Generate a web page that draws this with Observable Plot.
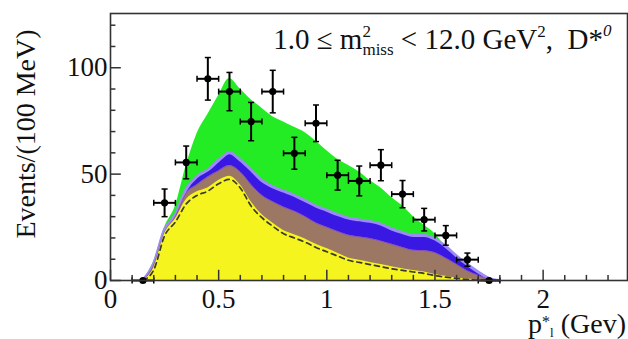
<!DOCTYPE html>
<html><head><meta charset="utf-8">
<script src="https://cdn.jsdelivr.net/npm/d3@7"></script>
<script src="https://cdn.jsdelivr.net/npm/@observablehq/plot@0.6"></script>
<style>body{margin:0;background:#fff}svg{display:block}</style>
</head><body><div id="chart"></div>
<script>
// Fit components (stacked, cumulative tops) on a 0.05 GeV grid
const gridX     = [0.15,0.2,0.25,0.3,0.35,0.4,0.45,0.5,0.55,0.6,0.65,0.7,0.75,0.8,0.85,0.9,0.95,1.0,1.05,1.1,1.15,1.2,1.25,1.3,1.35,1.4,1.45,1.5,1.55,1.6,1.65,1.7,1.75,1.8];
const totalTop  = [0,9,25,35,54,69,78,87,95,90,85,81,77,74.5,72,69.5,65.5,61,57,54,51,47,43.5,39,35,30,26,22,16,12,7.5,3.5,1,0];
const blueTop   = [0,8,24,31,43,49,52,56.5,60,56.6,52,47,44,42,40,37.5,35,33,31,29.3,28.5,27.8,26.5,24.2,22.5,21.2,21.2,19.5,16,11.5,7.5,4,1,0];
const brownTop  = [0,7,22.5,30,41,45,48.7,51.5,54,51,45,40,37,34.5,32.5,30,27,25,23,21.3,20.5,19.7,18.5,17,15.5,14.2,14,13,10.5,7.5,4.5,2.4,0.5,0];
const yellowTop = [0,6,22,29,38,41.7,43.5,47,49,45,37,31,27,23.5,21.5,19.5,17,15,12.8,10.6,9.5,8.5,7.5,6.5,5.5,4.7,4,2.8,2,1.2,0.7,0.3,0,0];
const dashedTop = [0,5,21,27.5,36,40,42,45.5,47.5,43.5,35,29.5,25.5,22,20,18,15.5,13.5,11.5,9.5,8.5,7.5,6.5,5.5,4.8,4,3.3,2.3,1.6,1,0.5,0.2,0,0];

// Data points
const dataX   = [0.15,0.25,0.35,0.45,0.55,0.65,0.75,0.85,0.95,1.05,1.15,1.25,1.35,1.45,1.55,1.65,1.75];
const dataY   = [0,36.5,55.5,94.8,88.8,74.7,88.8,59.8,73.9,49.5,46.8,54.2,40.6,28.6,21.2,9.8,0];
const dataErr = [0.6,6.5,7.7,10,9,9,10,7.5,8.6,7,7,7.3,6.4,5.3,4.6,3.1,0.6];
const halfBin = 0.05;

// Axes
const xTicks = [0,0.5,1,1.5,2];
const xTickLabels = ["0","0.5","1","1.5","2"];
const xMinor = [0.1,0.2,0.3,0.4,0.6,0.7,0.8,0.9,1.1,1.2,1.3,1.4,1.6,1.7,1.8,1.9,2.1,2.2,2.3];
const yTicks = [0,50,100];
const yTickLabels = ["0","50","100"];
const yMinor = [10,20,30,40,60,70,80,90,110,120];

const curve = gridX.map((x,i)=>({x, total: totalTop[i], blue: blueTop[i], brown: brownTop[i], yellow: yellowTop[i], dashed: dashedTop[i]}));
const pts = dataX.map((x,i)=>({x, y: dataY[i], e: dataErr[i]}));
const C = "monotone-x";
const capX = 0.014, capY = 1.4;

const plot = Plot.plot({
  width: 628, height: 339,
  marginLeft: 110, marginRight: 1, marginTop: 13, marginBottom: 59,
  x: {domain: [0, 2.39]},
  y: {domain: [0, 125.5]},
  style: {fontFamily: "Liberation Serif", fontSize: "27px", color: "#111", background: "white"},
  marks: [
    Plot.areaY(curve, {x: "x", y1: 0, y2: "total", fill: "#24ec24", curve: C}),
    Plot.areaY(curve, {x: "x", y1: 0, y2: "blue", fill: "#3a18e4", curve: C}),
    Plot.lineY(curve, {x: "x", y: "blue", stroke: "#9c8cf6", strokeWidth: 3, curve: C}),
    Plot.areaY(curve, {x: "x", y1: 0, y2: "brown", fill: "#9b7764", curve: C}),
    Plot.lineY(curve, {x: "x", y: "brown", stroke: "#8a50c0", strokeWidth: 1, curve: C}),
    Plot.areaY(curve, {x: "x", y1: 0, y2: "yellow", fill: "#f6f41e", curve: C}),
    Plot.lineY(curve, {x: "x", y: "dashed", stroke: "#3a3a2a", strokeWidth: 1.7, strokeDasharray: "5,4", curve: C}),
    // error bars
    Plot.link(pts, {x1: d => d.x - halfBin, x2: d => d.x + halfBin, y1: "y", y2: "y", stroke: "black", strokeWidth: 2}),
    Plot.link(pts, {x1: "x", x2: "x", y1: d => d.y - d.e, y2: d => d.y + d.e, stroke: "black", strokeWidth: 2}),
    Plot.link(pts, {x1: d => d.x - capX, x2: d => d.x + capX, y1: d => d.y + d.e, y2: d => d.y + d.e, stroke: "black", strokeWidth: 1.5}),
    Plot.link(pts, {x1: d => d.x - capX, x2: d => d.x + capX, y1: d => d.y - d.e, y2: d => d.y - d.e, stroke: "black", strokeWidth: 1.5}),
    Plot.link(pts, {x1: d => d.x - halfBin, x2: d => d.x - halfBin, y1: d => d.y - capY, y2: d => d.y + capY, stroke: "black", strokeWidth: 1.5}),
    Plot.link(pts, {x1: d => d.x + halfBin, x2: d => d.x + halfBin, y1: d => d.y - capY, y2: d => d.y + capY, stroke: "black", strokeWidth: 1.5}),
    Plot.dot(pts, {x: "x", y: "y", r: 3.6, fill: "black"}),
    // inward ticks
    Plot.ruleX(xTicks, {x: d => d, y1: 0, y2: 4.8, stroke: "#333", strokeWidth: 1.5}),
    Plot.ruleX(xMinor, {x: d => d, y1: 0, y2: 2.4, stroke: "#333", strokeWidth: 1.5}),
    Plot.ruleY(yTicks, {y: d => d, x1: 0, x2: 0.05, stroke: "#333", strokeWidth: 1.5}),
    Plot.ruleY(yMinor, {y: d => d, x1: 0, x2: 0.025, stroke: "#333", strokeWidth: 1.5}),
    Plot.frame({stroke: "#333", strokeWidth: 1.6}),
    Plot.axisX(xTicks, {tickSize: 0, tickPadding: 8, label: null, tickFormat: d => xTickLabels[xTicks.indexOf(d)]}),
    Plot.axisY(yTicks, {tickSize: 0, tickPadding: 3, label: null, tickFormat: d => yTickLabels[yTicks.indexOf(d)]})
  ]
});
document.getElementById("chart").appendChild(plot);

const svg = d3.select(plot);
const xs = plot.scale("x"), ys = plot.scale("y");
const ff = "Liberation Serif";

// annotation
const ann = svg.append("text").attr("font-family", ff).attr("font-size", 29).attr("fill", "#111")
  .attr("text-anchor", "end").attr("x", xs.apply(2.318)).attr("y", ys.apply(108.5));
ann.append("tspan").text("1.0 \u2264 m");
ann.append("tspan").attr("font-size", 17).attr("dy", -12).text("2");
ann.append("tspan").attr("font-size", 17).attr("dx", -8.5).attr("dy", 18).text("miss");
ann.append("tspan").attr("dy", -6).text(" < 12.0 GeV");
ann.append("tspan").attr("font-size", 17).attr("dy", -12).text("2");
ann.append("tspan").attr("dy", 12).text(",  D*");
ann.append("tspan").attr("font-size", 17).attr("font-style", "italic").attr("dy", -13).text("0");

// x label
const xl = svg.append("text").attr("font-family", ff).attr("font-size", 28).attr("fill", "#111")
  .attr("text-anchor", "end").attr("x", 626).attr("y", 333);
xl.append("tspan").text("p");
xl.append("tspan").attr("font-size", 16).attr("dy", -6).text("*");
xl.append("tspan").attr("font-size", 13).attr("dy", 10).text("l");
xl.append("tspan").attr("dy", -4).text(" (Gev)");

// y label
svg.append("text").attr("font-family", ff).attr("font-size", 28).attr("fill", "#111")
  .attr("text-anchor", "middle").attr("transform", "translate(35,134) rotate(-90)")
  .text("Events/(100 MeV)");
</script></body></html>
